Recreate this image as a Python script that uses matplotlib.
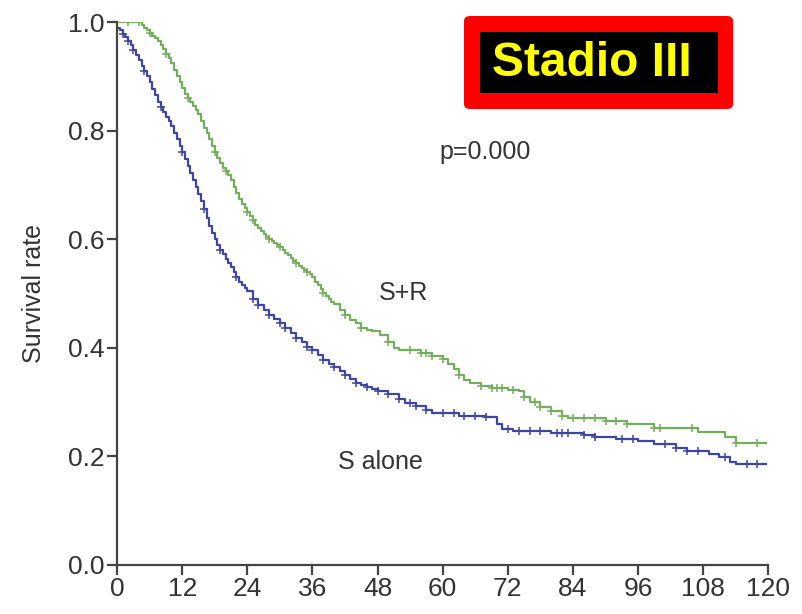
import numpy as np
import matplotlib
matplotlib.use("Agg")
import matplotlib.pyplot as plt
from matplotlib.patches import FancyBboxPatch, Rectangle

plt.rcParams['font.family'] = ['Liberation Sans', 'DejaVu Sans']

# S+R curve (months, survival)
sr_t = [0, 4, 4.5, 5, 5.5, 6, 6.5, 7, 7.5, 8, 8.5, 9, 9.5, 10, 10.5, 11, 11.5, 12,
        12.5, 13, 13.5, 14, 14.5, 15, 15.5, 16, 16.5, 17, 17.5, 18, 18.5, 19, 19.5,
        20, 20.5, 21, 21.5, 22, 22.5, 23, 23.5, 24, 24.5, 25, 25.5, 26, 26.5, 27,
        27.5, 28, 28.5, 29, 29.5, 30, 30.5, 31, 31.5, 32, 32.5, 33, 33.5, 34, 34.5,
        35, 35.5, 36, 36.5, 37, 37.5, 38, 38.5, 39, 39.5, 40, 41, 42, 43, 44, 45,
        46, 47, 48.5, 50, 51, 52, 56, 58, 60, 61, 62, 63, 64, 65, 67, 69, 72, 74,
        75, 76, 78, 80, 82, 83, 90, 94, 99, 107, 112, 114, 119.5]
sr_s = [1.0, 1.0, 0.995, 0.99, 0.985, 0.98, 0.975, 0.97, 0.965, 0.958, 0.95, 0.942,
        0.934, 0.925, 0.912, 0.9, 0.889, 0.878, 0.868, 0.86, 0.852, 0.845, 0.838,
        0.83, 0.818, 0.805, 0.795, 0.785, 0.772, 0.76, 0.75, 0.74, 0.732, 0.725,
        0.718, 0.71, 0.697, 0.685, 0.675, 0.665, 0.657, 0.65, 0.642, 0.635, 0.627,
        0.62, 0.615, 0.61, 0.605, 0.6, 0.596, 0.593, 0.589, 0.585, 0.58, 0.575,
        0.57, 0.565, 0.56, 0.556, 0.551, 0.547, 0.544, 0.54, 0.535, 0.53, 0.522,
        0.515, 0.508, 0.5, 0.495, 0.49, 0.485, 0.48, 0.47, 0.46, 0.452, 0.445,
        0.437, 0.432, 0.43, 0.424, 0.41, 0.4, 0.396, 0.39, 0.385, 0.38, 0.37, 0.36,
        0.35, 0.34, 0.335, 0.33, 0.325, 0.322, 0.32, 0.31, 0.3, 0.29, 0.283, 0.275,
        0.27, 0.265, 0.26, 0.252, 0.245, 0.235, 0.225, 0.225]
sr_cens = [2, 4, 6, 9, 13, 18, 20, 24, 25, 28, 30, 33, 35, 38, 42, 45, 50, 54, 56,
           57, 58, 60, 63, 67, 69, 70, 71, 73, 75, 77, 78, 80, 82, 84, 86, 88, 90,
           92, 94, 99, 100, 106, 114, 118]

# S alone curve
s_t = [0, 0.5, 1, 1.5, 2, 2.5, 3, 3.5, 4, 4.5, 5, 5.5, 6, 6.5, 7, 7.5, 8, 8.5, 9,
       9.5, 10, 10.5, 11, 11.5, 12, 12.5, 13, 13.5, 14, 14.5, 15, 15.5, 16, 16.5,
       17, 17.5, 18, 18.5, 19, 19.5, 20, 20.5, 21, 21.5, 22, 22.5, 23, 23.5, 24,
       25, 26, 27, 28, 29, 30, 31, 32, 33, 34, 35, 36, 37, 38, 39, 40, 41, 42, 43,
       44, 45, 46, 47, 48, 50, 52, 53, 55, 57, 58, 63, 68, 70, 71, 73, 80, 86, 88,
       92, 96, 99, 103, 105, 109, 111, 113, 114, 119.5]
s_s = [0.99, 0.985, 0.978, 0.972, 0.965, 0.957, 0.948, 0.94, 0.93, 0.92, 0.91, 0.9,
       0.89, 0.877, 0.865, 0.853, 0.843, 0.835, 0.826, 0.817, 0.808, 0.796, 0.784,
       0.772, 0.76, 0.748, 0.735, 0.722, 0.71, 0.697, 0.684, 0.67, 0.655, 0.64,
       0.625, 0.612, 0.6, 0.59, 0.58, 0.572, 0.564, 0.556, 0.548, 0.539, 0.53,
       0.522, 0.515, 0.51, 0.505, 0.49, 0.478, 0.47, 0.46, 0.453, 0.446, 0.437,
       0.428, 0.418, 0.41, 0.402, 0.395, 0.386, 0.378, 0.37, 0.364, 0.358, 0.35,
       0.342, 0.336, 0.332, 0.328, 0.324, 0.32, 0.314, 0.306, 0.298, 0.292, 0.285,
       0.28, 0.275, 0.272, 0.26, 0.25, 0.247, 0.243, 0.24, 0.236, 0.232, 0.228,
       0.222, 0.215, 0.21, 0.205, 0.198, 0.19, 0.186, 0.186]
s_cens = [1, 2, 3, 5, 8, 12, 16, 19, 22, 25, 26, 28, 30, 31, 33, 35, 36, 38, 40, 42,
          44, 46, 48, 50, 52, 54, 55, 57, 60, 62, 64, 66, 68, 72, 74, 76, 78, 81,
          82, 83, 86, 88, 93, 95, 101, 103, 105, 107, 112, 116, 118]

x_ticks = [0, 12, 24, 36, 48, 60, 72, 84, 96, 108, 120]
y_ticks = [0.0, 0.2, 0.4, 0.6, 0.8, 1.0]

green = '#74ad5e'
blue = '#3e469f'

fig = plt.figure(figsize=(8.02, 6.14), dpi=100)
ax = fig.add_axes([0.146, 0.080, 0.812, 0.884])


def km(ax, t, s, cens, color):
    ax.plot(t, s, drawstyle='steps-post', color=color, lw=1.6)
    t = np.array(t)
    s = np.array(s)
    idx = np.searchsorted(t, cens, side='right') - 1
    ax.plot(cens, s[idx], ls='none', marker='+', ms=6, mew=1.1, color=color)


km(ax, sr_t, sr_s, sr_cens, green)
km(ax, s_t, s_s, s_cens, blue)

ax.set_xlim(0, 120)
ax.set_ylim(0, 1.0)
ax.set_xticks(x_ticks)
ax.set_yticks(y_ticks)
ax.set_yticklabels([f'{v:.1f}' for v in y_ticks])
ax.spines['top'].set_visible(False)
ax.spines['right'].set_visible(False)
for sp in ['left', 'bottom']:
    ax.spines[sp].set_color('#444444')
    ax.spines[sp].set_linewidth(1.6)
ax.tick_params(axis='both', length=7, width=1.6, color='#444444',
               labelsize=19, labelcolor='#333333', pad=2)
ax.set_ylabel('Survival rate', fontsize=18, color='#333333', labelpad=16)

ax.text(67.8, 0.76, 'p=0.000', fontsize=18, color='#333333', ha='center', va='center')
ax.text(52.7, 0.50, 'S+R', fontsize=18, color='#333333', ha='center', va='center')
ax.text(48.5, 0.19, 'S alone', fontsize=18, color='#333333', ha='center', va='center')

W, H = 802, 614
fig.patches.append(FancyBboxPatch((464 / W, 1 - 109 / H), (733 - 464) / W, (109 - 16) / H,
                                  boxstyle='round,pad=0,rounding_size=0.008',
                                  transform=fig.transFigure, facecolor='#ff0000',
                                  edgecolor='none'))
fig.patches.append(Rectangle((480 / W, 1 - 93 / H), (718 - 480) / W, (93 - 32) / H,
                             transform=fig.transFigure, facecolor='black',
                             edgecolor='none'))
fig.text(492 / W, 1 - 64 / H, 'Stadio III', fontsize=34.5, fontweight='bold',
         color='#ffff00', ha='left', va='center')

fig.savefig('out.png', dpi=100)
